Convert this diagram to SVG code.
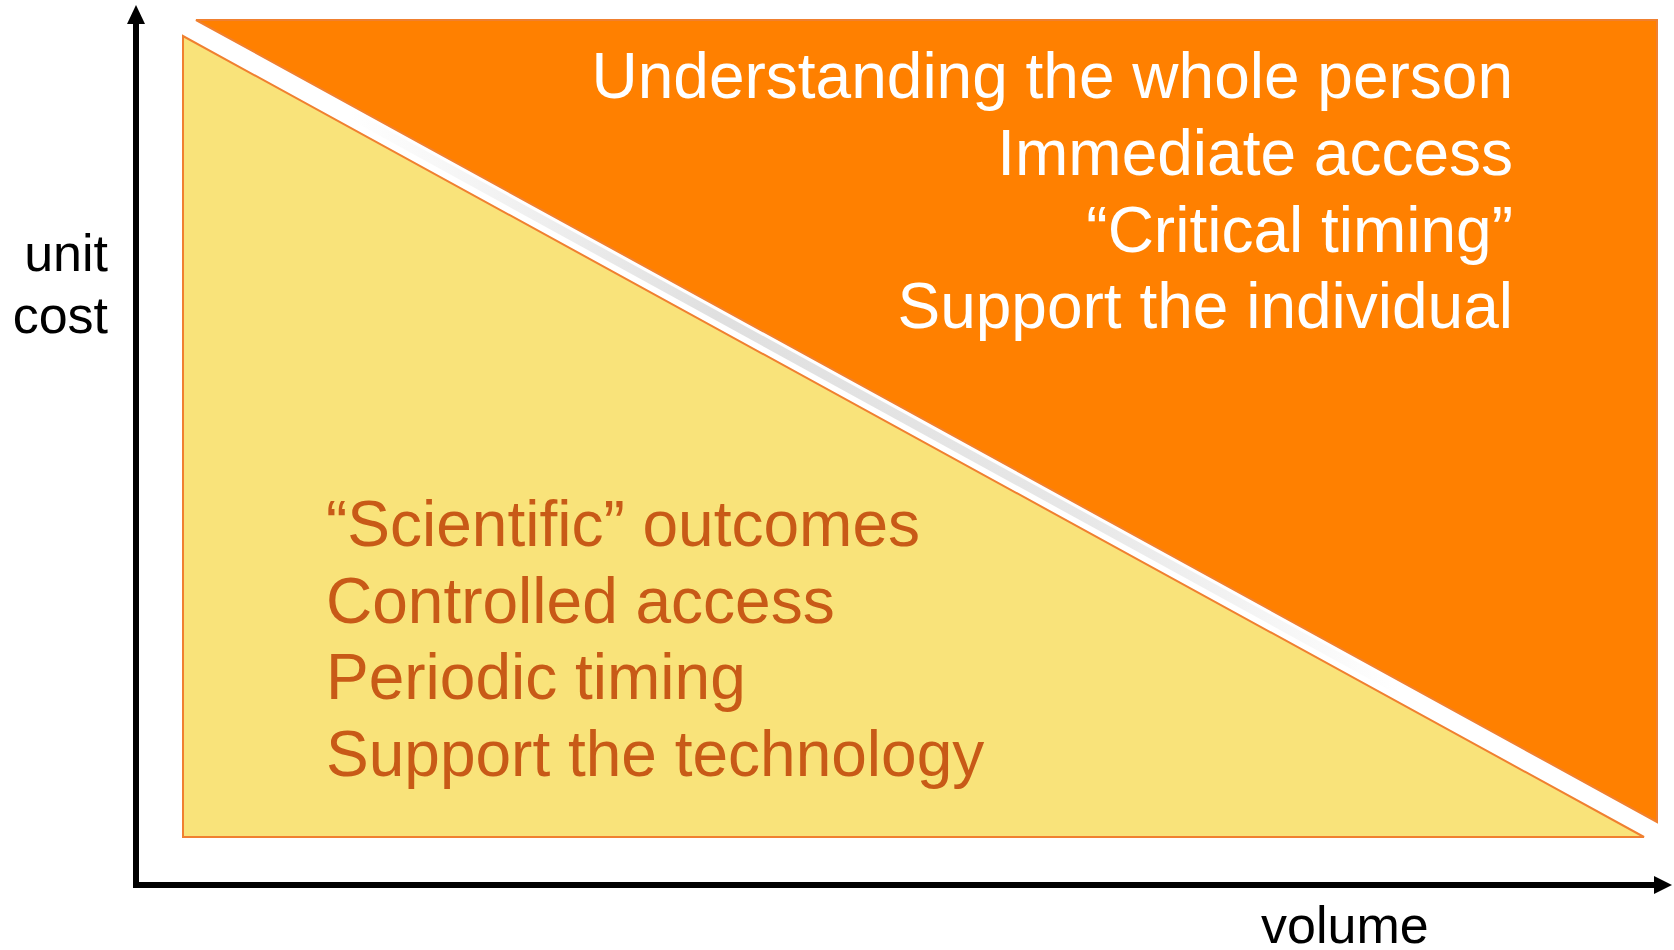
<svg xmlns="http://www.w3.org/2000/svg" width="1674" height="950" viewBox="0 0 1674 950">
<defs>
<style>
.lbl{font-family:"Liberation Sans",Arial,sans-serif;font-size:64px}
.axis{font-family:"Liberation Sans",Arial,sans-serif;font-size:52px;fill:#000}
.w{fill:#ffffff;text-anchor:end}
.y{fill:#C85A17}
.ax{stroke:#000;stroke-width:6;fill:none}
</style>
<linearGradient id="sh" x1="350" y1="0" x2="1400" y2="0" gradientUnits="userSpaceOnUse">
<stop offset="0" stop-color="#d8d8d8" stop-opacity="0"/>
<stop offset="0.35" stop-color="#d8d8d8" stop-opacity="0.8"/>
<stop offset="0.7" stop-color="#d8d8d8" stop-opacity="0.6"/>
<stop offset="1" stop-color="#d8d8d8" stop-opacity="0"/>
</linearGradient>
</defs>
<rect width="1674" height="950" fill="#ffffff"/>
<g id="shadow">
<line x1="189" y1="26" x2="1652" y2="829" stroke="url(#sh)" stroke-width="9"/>
</g>
<g id="orange-region">
<polygon points="196,20 1657,20 1657,822" fill="#FF8000" stroke="#F08030" stroke-width="2"/>
<text class="lbl w" x="1513" y="98">Understanding the whole person</text>
<text class="lbl w" x="1513" y="175">Immediate access</text>
<text class="lbl w" x="1513" y="252">“Critical timing”</text>
<text class="lbl w" x="1513" y="328">Support the individual</text>
</g>
<g id="yellow-region">
<polygon points="183,36 183,837 1644,837" fill="#F9E37A" stroke="#F08030" stroke-width="2"/>
<text class="lbl y" x="326" y="546">“Scientific” outcomes</text>
<text class="lbl y" x="326" y="623">Controlled access</text>
<text class="lbl y" x="326" y="699">Periodic timing</text>
<text class="lbl y" x="326" y="776">Support the technology</text>
</g>
<g id="connectors">
<polyline class="ax" points="136,22 136,885 1656,885"/>
<polygon points="136,5 127,24 145,24" fill="#000"/>
<polygon points="1672,885 1654,876 1654,894" fill="#000"/>
</g>
<g id="axis-labels">
<text class="axis" x="108" y="271" text-anchor="end">unit</text>
<text class="axis" x="108" y="333" text-anchor="end">cost</text>
<text class="axis" x="1261" y="943">volume</text>
</g>
</svg>
